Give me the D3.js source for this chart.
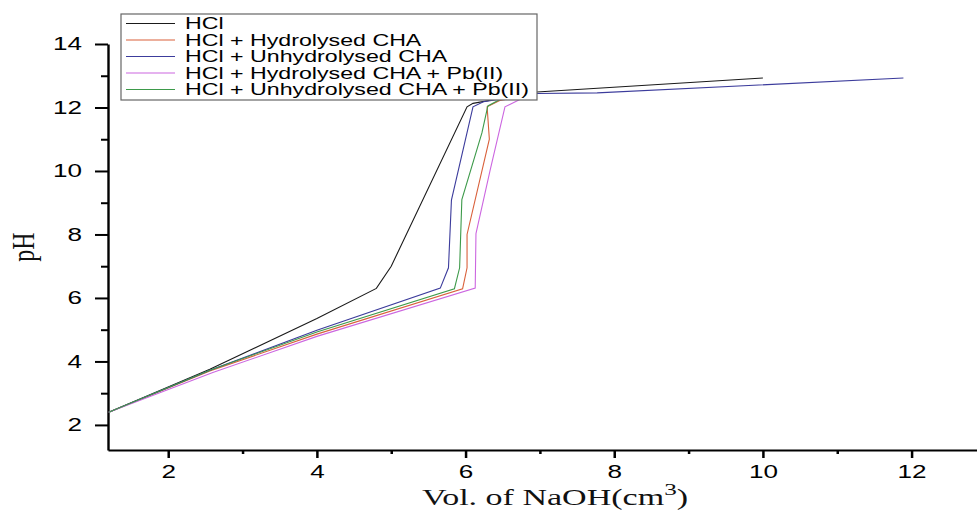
<!DOCTYPE html>
<html lang="en">
<head>
<meta charset="UTF-8">
<title>pH titration curves</title>
<script src="https://d3js.org/d3.v7.min.js"></script>
<style>
  body { margin: 0; background: #fff; }
  svg { display: block; }
</style>
</head>
<body>
<div id="chart"></div>
<script>
// legend labels, in legend order
const seriesNames = [
  'HCl',
  'HCl + Hydrolysed CHA',
  'HCl + Unhydrolysed CHA',
  'HCl + Hydrolysed CHA + Pb(II)',
  'HCl + Unhydrolysed CHA + Pb(II)'
];
const seriesColors = ['#1a1a1a', '#d9603b', '#3c3c9c', '#cc66e0', '#3d9a4a'];

// values: volume of NaOH (cm3) and pH
const hclVol = [1.2, 2.56, 4.0, 4.8, 5.0, 6.02, 6.1, 6.96, 10.0];
const hclPH  = [2.4, 3.75, 5.35, 6.3, 7.0, 12.02, 12.13, 12.49, 12.93];

const hydVol = [1.2, 2.56, 4.0, 5.96, 6.02, 6.02, 6.32, 6.29, 6.46, 6.94];
const hydPH  = [2.4, 3.7, 4.86, 6.29, 6.95, 8.0, 11.0, 12.02, 12.22, 12.42];

const unhydVol = [1.2, 2.56, 4.0, 5.66, 5.77, 5.81, 6.10, 6.24, 6.96, 7.77, 11.89];
const unhydPH  = [2.4, 3.72, 4.98, 6.31, 6.95, 9.08, 12.02, 12.18, 12.44, 12.46, 12.93];

const hydPbVol = [1.2, 2.6, 4.0, 6.13, 6.14, 6.33, 6.53, 6.73, 6.96];
const hydPbPH  = [2.4, 3.65, 4.79, 6.31, 8.03, 10.02, 12.02, 12.25, 12.4];

const unhydPbVol = [1.2, 2.56, 4.0, 5.85, 5.92, 5.95, 6.22, 6.30, 6.5, 6.94];
const unhydPbPH  = [2.4, 3.72, 4.93, 6.29, 6.95, 9.1, 11.2, 12.05, 12.3, 12.43];

const xMajor = [2, 4, 6, 8, 10, 12];
const xMinor = [3, 5, 7, 9, 11];
const yMajor = [2, 4, 6, 8, 10, 12, 14];
const yMinor = [3, 5, 7, 9, 11, 13];

const series = [
  { vol: hclVol, ph: hclPH },
  { vol: hydVol, ph: hydPH },
  { vol: unhydVol, ph: unhydPH },
  { vol: hydPbVol, ph: hydPbPH },
  { vol: unhydPbVol, ph: unhydPbPH }
];

const W = 977, H = 512;
const SX = 1.45; // the picture is stretched sideways, text too

const svg = d3.select('#chart').append('svg')
  .attr('width', W)
  .attr('height', H);

const x = d3.scaleLinear().domain([1.19, 12.88]).range([108, 977]);
const y = d3.scaleLinear().domain([1.21, 14]).range([450, 44]);

// x axis
svg.append('g')
  .attr('transform', 'translate(0,450)')
  .call(d3.axisBottom(x).tickValues(xMinor).tickSize(4).tickFormat(''))
  .call(g => g.select('.domain').remove())
  .selectAll('line').attr('stroke-width', 2.5);

const gx = svg.append('g')
  .attr('transform', 'translate(0,450)')
  .call(d3.axisBottom(x).tickValues(xMajor).tickSize(8).tickSizeOuter(0));
gx.select('.domain').attr('stroke-width', 1.8);
gx.selectAll('line').attr('stroke-width', 2.5);
gx.selectAll('text')
  .attr('y', null).attr('dy', null)
  .attr('transform', `translate(0,27.5) scale(${SX},1)`)
  .style('font-family', '"Liberation Sans", Arial, sans-serif')
  .style('font-size', '18px')
  .attr('fill', '#000');

// y axis
svg.append('g')
  .attr('transform', 'translate(108,0)')
  .call(d3.axisLeft(y).tickValues(yMinor).tickSize(7).tickFormat(''))
  .call(g => g.select('.domain').remove())
  .selectAll('line').attr('stroke-width', 2);

const gy = svg.append('g')
  .attr('transform', 'translate(108,0)')
  .call(d3.axisLeft(y).tickValues(yMajor).tickSize(13).tickSizeOuter(0));
gy.select('.domain').attr('stroke-width', 2.4);
gy.selectAll('line').attr('stroke-width', 2);
gy.selectAll('text')
  .attr('x', null)
  .attr('transform', `translate(-26,0) scale(${SX},1)`)
  .style('font-family', '"Liberation Sans", Arial, sans-serif')
  .style('font-size', '18px')
  .attr('fill', '#000');

// curves
const line = d3.line()
  .x(d => x(d[0]))
  .y(d => y(d[1]));

svg.append('g')
  .selectAll('path')
  .data(series)
  .join('path')
  .attr('d', s => line(d3.zip(s.vol, s.ph)))
  .attr('fill', 'none')
  .attr('stroke', (s, i) => seriesColors[i])
  .attr('stroke-width', 1.1);

// legend
const legend = svg.append('g');
legend.append('rect')
  .attr('x', 121).attr('y', 14)
  .attr('width', 416).attr('height', 86)
  .attr('fill', '#fff')
  .attr('stroke', '#666')
  .attr('stroke-width', 1.2);

const rows = legend.selectAll('g.row')
  .data(seriesNames)
  .join('g')
  .attr('class', 'row')
  .attr('transform', (d, i) => `translate(0,${23.5 + i * 16.5})`);

rows.append('line')
  .attr('x1', 126).attr('x2', 175)
  .attr('stroke', (d, i) => seriesColors[i])
  .attr('stroke-width', 1.1);

rows.append('text')
  .attr('transform', 'translate(185,5.8) scale(1.45,1)')
  .style('font-family', '"Liberation Sans", Arial, sans-serif')
  .style('font-size', '16px')
  .attr('fill', '#000')
  .text(d => d);

// axis titles
const xt = svg.append('text')
  .attr('transform', 'translate(555,505) scale(1.48,1)')
  .attr('text-anchor', 'middle')
  .style('font-family', '"Liberation Serif", "Times New Roman", serif')
  .style('font-size', '23px')
  .attr('fill', '#111');
xt.append('tspan').text('Vol. of NaOH(cm');
xt.append('tspan').attr('dy', -10).style('font-size', '17px').text('3');
xt.append('tspan').attr('dy', 10).text(')');

svg.append('text')
  .attr('transform', 'translate(34,247) scale(1.3,1) rotate(-90)')
  .attr('text-anchor', 'middle')
  .style('font-family', '"Liberation Serif", "Times New Roman", serif')
  .style('font-size', '24px')
  .attr('fill', '#111')
  .text('pH');
</script>
</body>
</html>
